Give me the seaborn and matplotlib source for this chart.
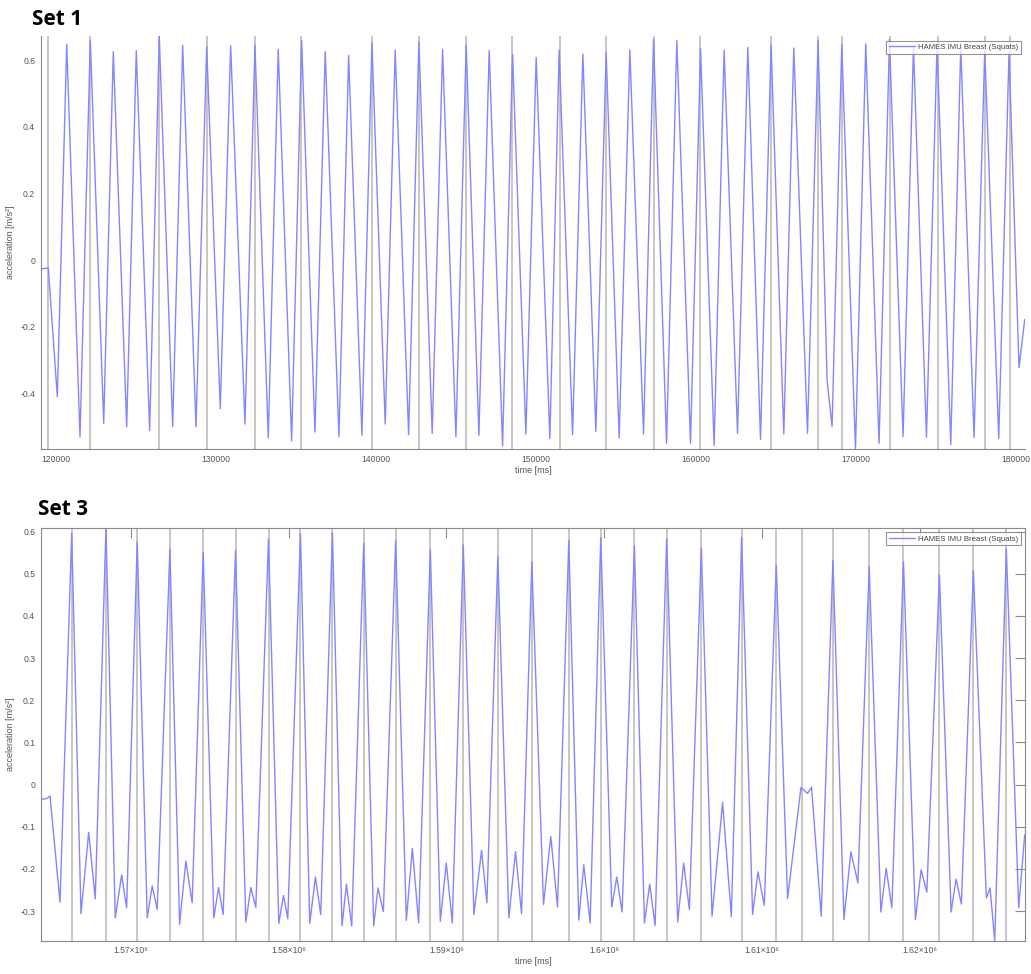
import pandas as pd
import matplotlib
matplotlib.use('Agg')
import matplotlib.pyplot as plt
import seaborn as sns
from matplotlib.ticker import FixedLocator, FuncFormatter

# ---- Set 1: signal (time in ms, acceleration in m/s^2)
set1_time = [119044, 119519, 120081, 120669, 121500, 122144, 122981, 123581, 124419, 125019,
             125856, 126456, 127294, 127919, 128750, 129419, 130269, 130919, 131813, 132438,
             133269, 133894, 134731, 135356, 136188, 136831, 137688, 138294, 139125, 139750,
             140581, 141206, 142044, 142688, 143519, 144169, 145000, 145644, 146438, 147081,
             147919, 148544, 149375, 150019, 150875, 151456, 152294, 152938, 153750, 154394,
             155206, 155875, 156731, 157356, 158169, 158813, 159669, 160294, 161144, 161769,
             162606, 163250, 164044, 164706, 165500, 166125, 166981, 167644, 168206, 168519,
             169125, 169981, 170625, 171456, 172106, 172956, 173606, 174419, 175081, 175938,
             176563, 177394, 178063, 178938, 179581, 180206, 180563]
set1_acc = [-0.027, -0.024, -0.41, 0.647, -0.53, 0.66, -0.49, 0.625, -0.50, 0.628,
            -0.512, 0.672, -0.50, 0.644, -0.50, 0.64, -0.446, 0.643, -0.492, 0.645,
            -0.534, 0.632, -0.543, 0.658, -0.516, 0.625, -0.53, 0.614, -0.526, 0.652,
            -0.492, 0.63, -0.524, 0.654, -0.52, 0.632, -0.53, 0.645, -0.526, 0.628,
            -0.558, 0.617, -0.522, 0.608, -0.536, 0.63, -0.524, 0.618, -0.514, 0.622,
            -0.534, 0.63, -0.522, 0.662, -0.55, 0.658, -0.55, 0.635, -0.556, 0.63,
            -0.52, 0.638, -0.538, 0.645, -0.522, 0.636, -0.52, 0.658, -0.36, -0.50,
            0.647, -0.568, 0.648, -0.55, 0.662, -0.53, 0.64, -0.532, 0.645, -0.554,
            0.64, -0.532, 0.63, -0.536, 0.625, -0.323, -0.178]
set1_reps = [119519, 122144, 126456, 129419, 132438, 135331, 139750, 142688, 145644, 148519,
             151481, 154394, 157356, 160269, 164706, 167644, 169144, 172125, 175144, 178063,
             179625]

# ---- Set 3
set3_time = [1564281, 1564661, 1564870, 1565504, 1566245, 1566833, 1567321, 1567739, 1568417,
             1569006, 1569411, 1569728, 1570399, 1571032, 1571349, 1571666, 1572470, 1573084,
             1573483, 1573882, 1574579, 1575256, 1575554, 1575845, 1576631, 1577283, 1577600,
             1577916, 1578721, 1579373, 1579671, 1579943, 1580747, 1581336, 1581697, 1582033,
             1582774, 1583382, 1583660, 1583996, 1584756, 1585389, 1585662, 1586003, 1586782,
             1587460, 1587840, 1588239, 1588980, 1589613, 1589993, 1590373, 1591070, 1591741,
             1592229, 1592565, 1593261, 1593958, 1594382, 1594762, 1595414, 1596155, 1596618,
             1597042, 1597758, 1598391, 1598708, 1599113, 1599784, 1600481, 1600798, 1601139,
             1601918, 1602552, 1602887, 1603229, 1603964, 1604661, 1605040, 1605401, 1606161,
             1606839, 1607510, 1608061, 1608714, 1609410, 1609752, 1610151, 1610911, 1611627,
             1612475, 1612893, 1613147, 1613761, 1614502, 1615199, 1615642, 1616085, 1616801,
             1617542, 1617877, 1618238, 1618973, 1619733, 1620094, 1620455, 1621253, 1621994,
             1622311, 1622646, 1623406, 1624230, 1624464, 1624761, 1625496, 1626281, 1626661]
set3_acc = [-0.035, -0.033, -0.027, -0.279, 0.595, -0.306, -0.113, -0.271, 0.61,
            -0.316, -0.214, -0.292, 0.575, -0.316, -0.24, -0.296, 0.558, -0.331,
            -0.181, -0.28, 0.55, -0.316, -0.244, -0.308, 0.555, -0.326, -0.244,
            -0.291, 0.582, -0.329, -0.263, -0.318, 0.595, -0.329, -0.219, -0.308,
            0.597, -0.335, -0.236, -0.335, 0.572, -0.335, -0.245, -0.301, 0.578,
            -0.322, -0.151, -0.328, 0.557, -0.324, -0.186, -0.328, 0.568, -0.308,
            -0.156, -0.28, 0.54, -0.316, -0.159, -0.306, 0.528, -0.284, -0.123,
            -0.29, 0.578, -0.321, -0.19, -0.328, 0.586, -0.29, -0.219, -0.302,
            0.566, -0.328, -0.236, -0.334, 0.583, -0.326, -0.186, -0.296, 0.561,
            -0.312, -0.042, -0.313, 0.586, -0.308, -0.207, -0.286, 0.52, -0.27,
            -0.007, -0.021, -0.006, -0.312, 0.532, -0.32, -0.159, -0.233, 0.516,
            -0.302, -0.198, -0.292, 0.528, -0.32, -0.202, -0.255, 0.497, -0.302,
            -0.224, -0.283, 0.507, -0.269, -0.245, -0.37, 0.558, -0.292, -0.119]
set3_reps = [1566245, 1568417, 1570399, 1572470, 1574579, 1576631, 1578721, 1580747, 1582774,
             1584756, 1586782, 1588980, 1591070, 1593261, 1595414, 1597758, 1599784, 1601918,
             1603964, 1606161, 1608714, 1610911, 1612539, 1614502, 1616801, 1618973, 1621253,
             1623406, 1625496]

legend_label = 'HAMES IMU Breast (Squats)'
set1_xticks = [120000, 130000, 140000, 150000, 160000, 170000, 180000]
set1_yticks = [-0.4, -0.2, 0, 0.2, 0.4, 0.6]
set3_xticks = [1570000, 1580000, 1590000, 1600000, 1610000, 1620000]
set3_yticks = [-0.3, -0.2, -0.1, 0, 0.1, 0.2, 0.3, 0.4, 0.5, 0.6]

sns.set_theme(style='white')
plt.rcParams['font.family'] = ['Liberation Sans', 'DejaVu Sans']

fig = plt.figure(figsize=(10.31, 9.74), dpi=100)
ax1 = fig.add_axes([0.0395, 0.539, 0.955, 0.424])
ax3 = fig.add_axes([0.0395, 0.0342, 0.955, 0.424])

gray = '#8a8a8a'
line_col = '#8585ff'


def num_fmt(v, pos):
    if abs(v) < 1e-9:
        return '0'
    return '%g' % round(v, 2)


def sci_fmt(v, pos):
    return '%g\u00d710\u2076' % round(v / 1e6, 2)


def style_axes(ax, df, reps, xlim, ylim, xticks, yticks, xfmt, boxed):
    for r in reps:
        ax.axvline(r, color='#c2c2c2', lw=1.3, zorder=1)
    sns.lineplot(data=df, x='time', y='acc', ax=ax, color=line_col, lw=1.0,
                 sort=False, estimator=None, label=legend_label, zorder=2)
    ax.set_xlim(*xlim)
    ax.set_ylim(*ylim)
    ax.xaxis.set_major_locator(FixedLocator(xticks))
    ax.yaxis.set_major_locator(FixedLocator(yticks))
    ax.xaxis.set_major_formatter(FuncFormatter(xfmt))
    ax.yaxis.set_major_formatter(FuncFormatter(num_fmt))
    ax.tick_params(direction='in', length=7, width=0.8, color=gray, labelsize=6.2,
                   labelcolor='#555555', top=boxed, right=boxed, pad=4)
    for s in ax.spines.values():
        s.set_color(gray)
        s.set_linewidth(0.8)
    if not boxed:
        ax.spines['top'].set_visible(False)
        ax.spines['right'].set_visible(False)
    ax.set_xlabel('time [ms]', fontsize=6.5, color='#555555')
    ax.set_ylabel('acceleration [m/s\u00b2]', fontsize=6.5, color='#555555')
    ax.yaxis.set_label_coords(-0.026, 0.5)
    ax.xaxis.set_label_coords(0.5, -0.04)
    leg = ax.legend(loc='upper right', fontsize=5.6, frameon=True, fancybox=False,
                    edgecolor='#7a7a7a', borderpad=0.35, handlelength=3.4,
                    handletextpad=0.3, borderaxespad=0.6)
    leg.get_frame().set_linewidth(0.8)
    for t in leg.get_texts():
        t.set_color('#444444')


df1 = pd.DataFrame({'time': set1_time, 'acc': set1_acc})
df3 = pd.DataFrame({'time': set3_time, 'acc': set3_acc})

style_axes(ax1, df1, set1_reps, (119044, 180600), (-0.567, 0.672),
           set1_xticks, set1_yticks, lambda v, p: '%d' % v, False)
style_axes(ax3, df3, set3_reps, (1564281, 1626700), (-0.370, 0.609),
           set3_xticks, set3_yticks, sci_fmt, True)

fig.text(0.031, 0.980, 'Set 1', fontsize=15, fontweight='bold', family='Open Sans',
         va='center', ha='left', color='black')
fig.text(0.037, 0.477, 'Set 3', fontsize=15, fontweight='bold', family='Open Sans',
         va='center', ha='left', color='black')

fig.savefig('out.png', dpi=100)
